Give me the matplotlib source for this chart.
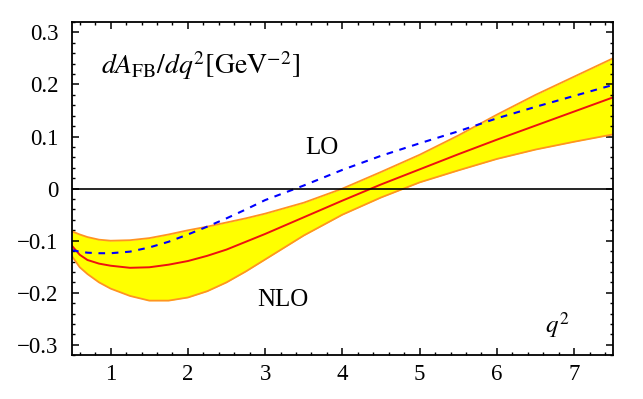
import matplotlib
matplotlib.use("Agg")
import matplotlib.pyplot as plt
from matplotlib.ticker import MultipleLocator

plt.rcParams['font.family'] = ['Liberation Serif', 'DejaVu Serif']
plt.rcParams['mathtext.fontset'] = 'stix'

# values
q2 = [0.5, 0.6, 0.7, 0.85, 1.0, 1.25, 1.5, 1.75, 2.0, 2.25, 2.5, 2.75, 3.0,
      3.5, 4.0, 4.5, 5.0, 5.5, 6.0, 6.5, 7.0, 7.5]
nlo_upper = [-0.082, -0.088, -0.093, -0.098, -0.100, -0.099, -0.095, -0.088, -0.080, -0.073,
             -0.065, -0.057, -0.048, -0.027, 0.000, 0.032, 0.065, 0.102, 0.142, 0.180, 0.215, 0.250]
nlo_central = [-0.110, -0.127, -0.137, -0.144, -0.148, -0.152, -0.151, -0.146, -0.139, -0.129,
               -0.117, -0.102, -0.087, -0.055, -0.023, 0.008, 0.037, 0.066, 0.094, 0.121, 0.148, 0.175]
nlo_lower = [-0.130, -0.151, -0.164, -0.180, -0.192, -0.206, -0.215, -0.215, -0.209, -0.197,
             -0.180, -0.159, -0.136, -0.090, -0.050, -0.017, 0.012, 0.035, 0.057, 0.075, 0.090, 0.104]
lo = [-0.118, -0.121, -0.123, -0.124, -0.124, -0.121, -0.113, -0.102, -0.088, -0.073,
      -0.057, -0.040, -0.022, 0.006, 0.036, 0.063, 0.087, 0.110, 0.135, 0.157, 0.178, 0.199]

fig = plt.figure(figsize=(6.43, 3.99), dpi=100)
ax = fig.add_axes([0.112, 0.1095, 0.841, 0.8355])

ax.fill_between(q2, nlo_lower, nlo_upper, color='#FFFF00', lw=0)
ax.plot(q2, nlo_upper, color='#FF9322', lw=1.3)
ax.plot(q2, nlo_lower, color='#FF9322', lw=1.3)
ax.plot(q2, nlo_central, color='#EE1010', lw=1.4)
ax.plot(q2, lo, color='#0000FF', lw=1.5, dashes=(3.2, 3.2))
ax.axhline(0, color='black', lw=1.2)

ax.set_xlim(0.5, 7.5)
ax.set_ylim(-0.32, 0.32)
ax.xaxis.set_major_locator(MultipleLocator(1))
ax.xaxis.set_minor_locator(MultipleLocator(0.2))
ax.yaxis.set_minor_locator(MultipleLocator(0.02))
ax.set_yticks([-0.3, -0.2, -0.1, 0, 0.1, 0.2, 0.3])
ax.set_yticklabels(['\u22120.3', '\u22120.2', '\u22120.1', '0', '0.1', '0.2', '0.3'])
ax.tick_params(which='both', direction='in', top=True, right=True, labelsize=16.5)
ax.tick_params(which='major', length=5, width=1.1)
ax.tick_params(axis='y', which='major', pad=10)
ax.tick_params(axis='x', which='major', pad=6)
ax.tick_params(which='minor', length=2.5, width=1.0)
for s in ax.spines.values():
    s.set_linewidth(1.3)

ax.text(0.87, 0.237, r'$dA_{\rm FB}/dq^2[{\rm GeV}^{-2}]$', fontsize=20, va='center', ha='left')
ax.text(3.74, 0.078, 'LO', fontsize=18, ha='center', va='center')
ax.text(3.23, -0.213, 'NLO', fontsize=18, ha='center', va='center')
ax.text(6.78, -0.262, r'$q^2$', fontsize=18, ha='center', va='center')

fig.savefig('out.png', dpi=100)
